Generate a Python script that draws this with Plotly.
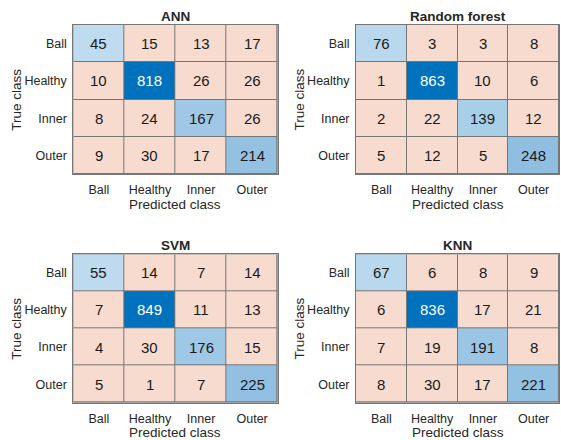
import plotly.graph_objects as go

classes = ["Ball", "Healthy", "Inner", "Outer"]

titles = ["ANN", "Random forest", "SVM", "KNN"]

ann = [[45, 15, 13, 17],
       [10, 818, 26, 26],
       [8, 24, 167, 26],
       [9, 30, 17, 214]]

random_forest = [[76, 3, 3, 8],
                 [1, 863, 10, 6],
                 [2, 22, 139, 12],
                 [5, 12, 5, 248]]

svm = [[55, 14, 7, 14],
       [7, 849, 11, 13],
       [4, 30, 176, 15],
       [5, 1, 7, 225]]

knn = [[67, 6, 8, 9],
       [6, 836, 17, 21],
       [7, 19, 191, 8],
       [8, 30, 17, 221]]

matrices = [ann, random_forest, svm, knn]

W, H = 561, 440
# panel boxes in pixels: (left, right, top, bottom)
boxes = [(73.3, 277.7, 25.0, 174.0),
         (356.0, 559.0, 25.0, 174.0),
         (73.3, 277.7, 254.3, 402.7),
         (356.0, 559.0, 254.3, 402.7)]

# off-diagonal cells at zmin, diagonal cells scaled by value / largest diagonal
colorscale = [
    [0.0, "rgb(247,219,207)"],
    [0.06, "rgb(247,219,207)"],
    [0.0909, "rgb(203,226,242)"],
    [0.3636, "rgb(140,188,224)"],
    [1.0, "rgb(0,114,189)"],
]
ZMIN, ZMAX = -0.1, 1.0
FONT = "Liberation Sans, Arial, sans-serif"
GRID = "rgb(118,118,118)"
TXT = "#262626"

fig = go.Figure()
layout = {}
annotations = []


def label(x, y, text, size, angle=0):
    return dict(x=x, y=y, xref="paper", yref="paper", text=text, showarrow=False,
                xanchor="center", yanchor="middle", textangle=angle,
                font=dict(family=FONT, size=size, color=TXT))


for k, (mat, title, box) in enumerate(zip(matrices, titles, boxes)):
    n = len(classes)
    dmax = max(mat[i][i] for i in range(n))
    zc = [[(mat[i][j] / dmax if i == j else ZMIN) for j in range(n)] for i in range(n)]
    xa = "x" if k == 0 else f"x{k+1}"
    ya = "y" if k == 0 else f"y{k+1}"
    fig.add_trace(go.Heatmap(
        z=zc, x=list(range(n)), y=list(range(n)),
        colorscale=colorscale, zmin=ZMIN, zmax=ZMAX, showscale=False,
        xgap=1, ygap=1, hoverinfo="skip",
        xaxis=xa, yaxis=ya,
    ))
    l, r, t, b = box
    xdom = [l / W, r / W]
    ydom = [1 - b / H, 1 - t / H]
    axis_common = dict(showgrid=False, zeroline=False, showline=True, mirror=True,
                       linecolor=GRID, linewidth=1, ticks="",
                       tickfont=dict(family=FONT, size=12.5, color=TXT),
                       fixedrange=True)
    layout["xaxis" if k == 0 else f"xaxis{k+1}"] = dict(
        domain=xdom, anchor=ya, range=[-0.5, n - 0.5],
        tickvals=list(range(n)), ticktext=classes, ticklabelstandoff=4,
        **axis_common)
    layout["yaxis" if k == 0 else f"yaxis{k+1}"] = dict(
        domain=ydom, anchor=xa, range=[n - 0.5, -0.5],
        tickvals=list(range(n)), ticktext=classes, ticklabelstandoff=3,
        **axis_common)
    # cell counts
    for i in range(n):
        for j in range(n):
            v = mat[i][j]
            annotations.append(dict(
                x=j, y=i, xref=xa, yref=ya, text=str(v), showarrow=False,
                xanchor="center", yanchor="middle",
                font=dict(family=FONT, size=15,
                          color="white" if v == dmax else "#1a1a1a")))
    # panel title and axis titles
    annotations.append(label((l + r) / 2 / W, 1 - (t - 9) / H, f"<b>{title}</b>", 13.5))
    annotations.append(label((l + r) / 2 / W, 1 - (b + 30) / H, "Predicted class", 13.5))
    annotations.append(label((l - 57) / W, 1 - (t + b) / 2 / H, "True class", 13.5, -90))

fig.update_layout(
    width=W, height=H,
    margin=dict(l=0, r=0, t=0, b=0),
    paper_bgcolor="white", plot_bgcolor=GRID,
    showlegend=False,
    annotations=annotations,
    **layout,
)

fig.write_html("out.html")
